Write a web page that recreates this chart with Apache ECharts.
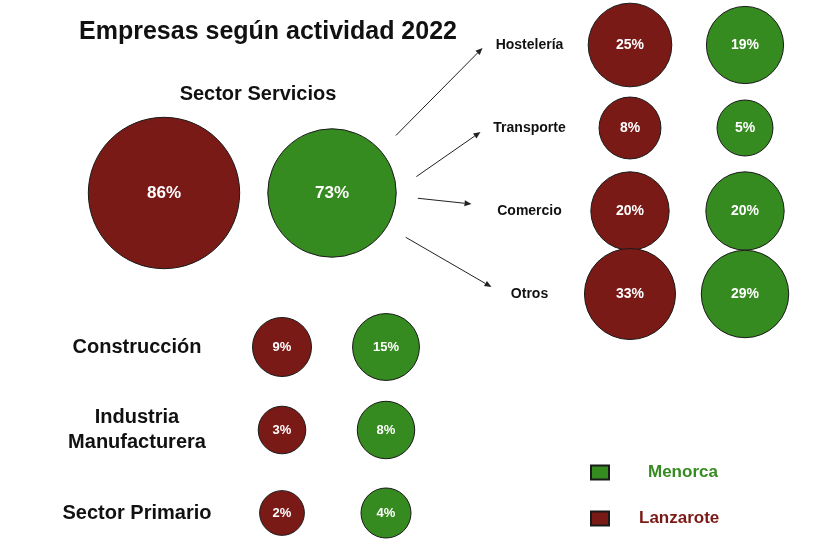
<!DOCTYPE html>
<html>
<head>
<meta charset="utf-8">
<script src="https://cdn.jsdelivr.net/npm/echarts@6/dist/echarts.min.js"></script>
<style>
html,body{margin:0;padding:0;background:#fff;}
#chart{width:821px;height:557px;}
</style>
</head>
<body>
<div id="chart"></div>
<script>
// ---- data ----
const islands = ['Lanzarote', 'Menorca'];
const serviciosLabel = ['Sector Servicios'];
const serviciosLanzarote = [86];
const serviciosMenorca = [73];
const detailSectors = ['Hostelería', 'Transporte', 'Comercio', 'Otros'];
const detailLanzarote = [25, 8, 20, 33];
const detailMenorca = [19, 5, 20, 29];
const otherSectors = ['Construcción', 'Industria\nManufacturera', 'Sector Primario'];
const otherLanzarote = [9, 3, 2];
const otherMenorca = [15, 8, 4];

// ---- styles ----
const RED = '#7a1a17';
const GREEN = '#358a20';
const FONT = 'Liberation Sans, Arial, sans-serif';

const sizeServicios = v => 1.76 * v;
const sizeDetail = v => 33.6 + 10 * Math.sqrt(v);
const sizeOther = v => 32 + 9 * Math.sqrt(v);

function pts(cats, vals, island) {
  return cats.map((c, i) => [island, c, vals[i]]);
}

function bubble(name, grid, data, color, sizeFn, fontSize) {
  return {
    type: 'scatter', name: name,
    xAxisIndex: grid, yAxisIndex: grid,
    data: data,
    symbol: 'circle',
    symbolSize: d => sizeFn(d[2]),
    itemStyle: { color: color, borderColor: '#1a1a1a', borderWidth: 1, opacity: 1 },
    label: {
      show: true, position: 'inside', color: '#fff', fontWeight: 'bold',
      fontFamily: FONT, fontSize: fontSize,
      formatter: p => p.data[2] + '%'
    },
    emphasis: { disabled: true },
    z: 3
  };
}

function hiddenX(grid) {
  return { type: 'category', gridIndex: grid, data: islands, axisLine: {show:false},
    axisTick: {show:false}, axisLabel: {show:false}, splitLine: {show:false} };
}

const chart = echarts.init(document.getElementById('chart'));
const option = {
  animation: false,
  backgroundColor: '#fff',
  title: [
    { text: 'Empresas según actividad 2022', left: 263, top: 15, textAlign: 'center',
      textStyle: { fontFamily: FONT, fontSize: 25, fontWeight: 'bold', color: '#111' } },
    { text: 'Sector Servicios', left: 253, top: 79, textAlign: 'center',
      textStyle: { fontFamily: FONT, fontSize: 20, fontWeight: 'bold', color: '#111' } }
  ],
  grid: [
    { left: 572.5, top: 3.5, width: 230, height: 332 },
    { left: 80, top: 143, width: 336, height: 100 },
    { left: 230, top: 305.5, width: 208, height: 249 }
  ],
  xAxis: [hiddenX(0), hiddenX(1), hiddenX(2)],
  yAxis: [
    { type: 'category', gridIndex: 0, data: detailSectors, inverse: true,
      axisLine: {show:false}, axisTick: {show:false}, splitLine: {show:false},
      axisLabel: { align: 'center', margin: 43, fontFamily: FONT, fontSize: 14,
        fontWeight: 'bold', color: '#111' } },
    { type: 'category', gridIndex: 1, data: serviciosLabel, inverse: true,
      axisLine: {show:false}, axisTick: {show:false}, splitLine: {show:false},
      axisLabel: { show: false } },
    { type: 'category', gridIndex: 2, data: otherSectors, inverse: true,
      axisLine: {show:false}, axisTick: {show:false}, splitLine: {show:false},
      axisLabel: { align: 'center', margin: 93, fontFamily: FONT, fontSize: 20,
        fontWeight: 'bold', color: '#111', lineHeight: 25 } }
  ],
  legend: {
    orient: 'vertical', left: 585, top: 459, itemWidth: 18, itemHeight: 14, itemGap: 29,
    icon: 'rect', selectedMode: false,
    data: ['Menorca', 'Lanzarote'],
    formatter: n => n === 'Menorca' ? '{m|Menorca}' : '{l|Lanzarote}',
    textStyle: {
      fontFamily: FONT, fontSize: 17, fontWeight: 'bold',
      rich: {
        m: { color: GREEN, fontFamily: FONT, fontSize: 17, fontWeight: 'bold', padding: [0,0,0,34] },
        l: { color: RED, fontFamily: FONT, fontSize: 17, fontWeight: 'bold', padding: [0,0,0,25] }
      }
    }
  },
  series: [
    bubble('Lanzarote', 0, pts(detailSectors, detailLanzarote, 'Lanzarote'), RED, sizeDetail, 14),
    bubble('Menorca', 0, pts(detailSectors, detailMenorca, 'Menorca'), GREEN, sizeDetail, 14),
    bubble('Lanzarote', 1, pts(serviciosLabel, serviciosLanzarote, 'Lanzarote'), RED, sizeServicios, 17),
    bubble('Menorca', 1, pts(serviciosLabel, serviciosMenorca, 'Menorca'), GREEN, sizeServicios, 17),
    bubble('Lanzarote', 2, pts(otherSectors, otherLanzarote, 'Lanzarote'), RED, sizeOther, 13),
    bubble('Menorca', 2, pts(otherSectors, otherMenorca, 'Menorca'), GREEN, sizeOther, 13)
  ]
};
chart.setOption(option);

// ---- arrows from the Servicios (Menorca) bubble to the detail rows ----
const arrowSpec = [
  { angle: -42, endDx: -47, endDy: 3 },
  { angle: -11, endDx: -49, endDy: 4 },
  { angle: 3.5, endDx: -58, endDy: -7 },
  { angle: 31, endDx: -38, endDy: -7 }
];
const src = chart.convertToPixel({ xAxisIndex: 1, yAxisIndex: 1 }, [1, 0]);
const graphics = [];
arrowSpec.forEach((a, i) => {
  const row = chart.convertToPixel({ xAxisIndex: 0, yAxisIndex: 0 }, [0, i]);
  const labelCx = option.grid[0].left - option.yAxis[0].axisLabel.margin;
  const th = a.angle * Math.PI / 180;
  const x1 = src[0] + 86 * Math.cos(th), y1 = src[1] + 86 * Math.sin(th);
  const x2 = labelCx + a.endDx, y2 = row[1] + a.endDy;
  const ang = Math.atan2(y2 - y1, x2 - x1);
  const L = 7, W = 3;
  const bx = x2 - L * Math.cos(ang), by = y2 - L * Math.sin(ang);
  graphics.push({ type: 'line', shape: { x1, y1, x2: bx, y2: by },
    style: { stroke: '#222', lineWidth: 1 }, silent: true, z: 10 });
  graphics.push({ type: 'polygon', shape: { points: [
      [x2, y2],
      [bx - W * Math.sin(ang), by + W * Math.cos(ang)],
      [bx + W * Math.sin(ang), by - W * Math.cos(ang)]
    ] }, style: { fill: '#222' }, silent: true, z: 10 });
});
chart.setOption({ graphic: graphics });
</script>
</body>
</html>
